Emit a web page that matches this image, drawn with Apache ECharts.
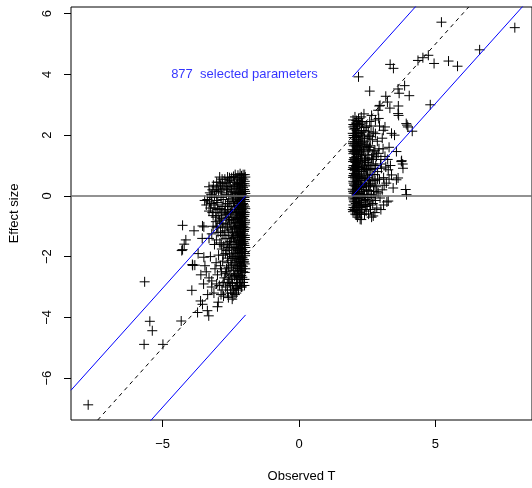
<!DOCTYPE html>
<html>
<head>
<meta charset="utf-8">
<script src="https://cdn.jsdelivr.net/npm/echarts@6/dist/echarts.min.js"></script>
<style>html,body{margin:0;padding:0;background:#fff}#c{width:532px;height:488px}</style>
</head>
<body>
<div id="c"></div>
<script>
// ---- data ----
const xTicks = [-5, 0, 5];
const yTicks = [-6, -4, -2, 0, 2, 4, 6];
const xLim = [-8.36, 8.54];
const yLim = [-7.38, 6.22];
const cutoff = 1.96;
const nSelected = 877;
const labelPos = [-2, 4];

// selected parameters with negative observed T: [observed T, effect size]
const negSide = [
[-1.97,0.62],[-1.99,0.48],[-1.98,0.33],[-2.01,0.21],[-1.97,0.08],[-2.0,-0.05],[-1.98,-0.18],[-2.02,-0.3],[-1.97,-0.42],[-1.99,-0.55],[-2.01,-0.68],[-1.98,-0.8],[-2.0,-0.93],[-1.97,-1.05],[-2.02,-1.17],[-1.99,-1.3],[-1.98,-1.44],[-2.01,-1.56],[-1.97,-1.7],[-2.0,-1.83],[-1.98,-1.97],[-2.02,-2.1],[-1.99,-2.24],[-1.97,-2.4],
[-2.05,0.7],[-2.04,0.55],[-2.07,0.41],[-2.05,0.27],[-2.06,0.14],[-2.04,0.0],[-2.08,-0.12],[-2.05,-0.25],[-2.06,-0.37],[-2.04,-0.5],[-2.07,-0.62],[-2.05,-0.75],[-2.08,-0.88],[-2.04,-1.0],[-2.06,-1.12],[-2.05,-1.25],[-2.07,-1.38],[-2.04,-1.5],[-2.06,-1.63],[-2.08,-1.76],[-2.05,-1.9],[-2.07,-2.04],[-2.04,-2.18],[-2.06,-2.32],[-2.05,-2.5],[-2.08,-2.68],
[-2.11,0.66],[-2.13,0.5],[-2.1,0.36],[-2.14,0.22],[-2.12,0.08],[-2.1,-0.06],[-2.15,-0.19],[-2.12,-0.32],[-2.1,-0.45],[-2.13,-0.58],[-2.11,-0.71],[-2.14,-0.84],[-2.1,-0.96],[-2.12,-1.09],[-2.15,-1.22],[-2.11,-1.35],[-2.13,-1.48],[-2.1,-1.61],[-2.14,-1.74],[-2.12,-1.88],[-2.1,-2.02],[-2.15,-2.16],[-2.11,-2.3],[-2.13,-2.46],[-2.12,-2.62],[-2.14,-2.85],
[-2.19,0.6],[-2.17,0.45],[-2.21,0.3],[-2.18,0.16],[-2.22,0.02],[-2.19,-0.11],[-2.17,-0.25],[-2.21,-0.38],[-2.2,-0.52],[-2.18,-0.65],[-2.23,-0.78],[-2.19,-0.92],[-2.17,-1.05],[-2.21,-1.19],[-2.2,-1.32],[-2.18,-1.46],[-2.22,-1.6],[-2.19,-1.73],[-2.17,-1.87],[-2.21,-2.0],[-2.2,-2.15],[-2.18,-2.3],[-2.23,-2.48],[-2.2,-2.66],[-2.18,-2.9],[-2.22,-3.1],
[-2.28,0.55],[-2.26,0.4],[-2.3,0.25],[-2.27,0.1],[-2.32,-0.04],[-2.28,-0.18],[-2.26,-0.32],[-2.31,-0.46],[-2.29,-0.6],[-2.27,-0.74],[-2.32,-0.88],[-2.28,-1.02],[-2.3,-1.16],[-2.26,-1.3],[-2.31,-1.45],[-2.29,-1.6],[-2.27,-1.75],[-2.32,-1.9],[-2.28,-2.05],[-2.3,-2.2],[-2.26,-2.38],[-2.31,-2.56],[-2.29,-2.75],[-2.27,-2.95],[-2.3,-3.2],
[-2.4,0.64],[-2.37,0.45],[-2.42,0.3],[-2.38,0.12],[-2.44,-0.02],[-2.4,-0.2],[-2.37,-0.36],[-2.43,-0.52],[-2.39,-0.7],[-2.41,-0.86],[-2.37,-1.02],[-2.44,-1.2],[-2.4,-1.36],[-2.38,-1.52],[-2.42,-1.7],[-2.39,-1.88],[-2.43,-2.06],[-2.38,-2.25],[-2.41,-2.45],[-2.37,-2.65],[-2.44,-2.88],[-2.4,-3.1],[-2.42,-3.3],
[-2.52,0.5],[-2.56,0.32],[-2.5,0.15],[-2.58,0.0],[-2.53,-0.18],[-2.57,-0.35],[-2.51,-0.55],[-2.59,-0.72],[-2.54,-0.9],[-2.5,-1.1],[-2.57,-1.3],[-2.52,-1.5],[-2.6,-1.7],[-2.55,-1.92],[-2.5,-2.12],[-2.58,-2.35],[-2.53,-2.6],[-2.56,-2.85],[-2.51,-3.1],[-2.59,-3.35],
[-2.68,0.42],[-2.75,0.25],[-2.66,0.05],[-2.78,-0.12],[-2.7,-0.3],[-2.74,-0.5],[-2.67,-0.7],[-2.79,-0.9],[-2.72,-1.15],[-2.68,-1.4],[-2.76,-1.65],[-2.7,-1.9],[-2.8,-2.15],[-2.66,-2.4],[-2.74,-2.7],[-2.69,-3.0],[-2.77,-3.3],
[-2.91,0.62],[-2.88,0.35],[-2.95,0.15],[-2.86,-0.05],[-2.98,-0.22],[-2.9,-0.42],[-2.94,-0.65],[-2.87,-0.9],[-2.97,-1.2],[-2.9,-1.55],[-2.95,-1.95],[-2.88,-2.3],[-2.99,-2.6],[-2.92,-2.95],[-2.86,-3.25],[-2.96,-3.5],
[-3.18,0.2],[-3.27,0.1],[-3.1,0.0],[-3.36,-0.12],[-3.22,-0.25],[-3.08,-0.4],[-3.3,-0.5],[-3.15,-0.65],[-3.05,-0.85],[-3.2,-1.25],[-3.1,-1.6],[-3.25,-2.0],[-3.08,-2.4],[-3.2,-2.8],[-3.12,-3.2],[-3.31,-3.95],[-3.36,-3.78],[-3.72,-3.84],[-2.99,-3.65],
[-3.46,-0.15],[-3.49,-1.02],[-3.54,-0.99],[-3.85,-1.15],[-4.27,-0.97],[-4.15,-1.45],[-4.21,-1.59],[-4.3,-1.8],[-4.27,-1.77],[-3.91,-2.26],[-3.82,-2.28],[-3.49,-2.02],[-3.9,-2.29],[-5.66,-2.83],[-5.47,-4.13],[-5.38,-4.44],[-5.68,-4.89],[-4.99,-4.89],[-7.73,-6.88],[-4.32,-4.12],[-3.93,-3.11],[-3.61,-3.46],[-3.54,-3.57],[-3.6,-2.6],[-3.7,-1.9],[-3.55,-1.4],
[-3.4,-2.5],[-3.3,-2.7],[-3.5,-2.9],[-3.2,-3.0],[-3.45,-2.3],[-3.35,-3.25],
[-1.99,0.7],[-2.0,0.4],[-1.98,0.15],[-2.01,-0.12],[-1.99,-0.36],[-2.0,-0.62],[-1.98,-0.87],[-2.01,-1.11],[-1.99,-1.37],[-2.0,-1.63],[-1.98,-1.9],[-2.01,-2.17],[-1.99,-2.52],[-2.0,-2.75],
[-2.09,0.59],[-2.08,0.33],[-2.1,0.05],[-2.09,-0.28],[-2.08,-0.55],[-2.1,-0.8],[-2.09,-1.04],[-2.08,-1.3],[-2.1,-1.56],[-2.09,-1.82],[-2.08,-2.1],[-2.1,-2.4],[-2.09,-2.75],[-2.1,-3.0],
[-2.16,0.73],[-2.16,0.42],[-2.15,0.12],[-2.17,-0.15],[-2.16,-0.42],[-2.15,-0.7],[-2.17,-0.98],[-2.16,-1.28],[-2.15,-1.55],[-2.17,-1.82],[-2.16,-2.08],[-2.15,-2.4],[-2.17,-2.7],
[-2.24,0.68],[-2.25,0.38],[-2.24,0.08],[-2.25,-0.2],[-2.24,-0.46],[-2.25,-0.72],[-2.24,-0.98],[-2.25,-1.25],[-2.24,-1.52],[-2.25,-1.8],[-2.24,-2.08],[-2.25,-2.38],[-2.24,-2.6],[-2.25,-2.85],
[-2.34,0.7],[-2.35,0.35],[-2.34,0.03],[-2.35,-0.26],[-2.34,-0.55],[-2.35,-0.8],[-2.34,-1.08],[-2.35,-1.38],[-2.34,-1.68],[-2.35,-1.98],[-2.34,-2.3],[-2.35,-2.62],[-2.34,-3.0],
[-2.47,0.6],[-2.48,0.22],[-2.46,-0.1],[-2.48,-0.45],[-2.47,-0.78],[-2.46,-1.05],[-2.48,-1.4],[-2.47,-1.75],[-2.46,-2.0],[-2.48,-2.3],[-2.47,-2.7],[-2.46,-3.2],
[-2.62,0.62],[-2.63,0.2],[-2.62,-0.25],[-2.64,-0.6],[-2.62,-1.0],[-2.63,-1.55],[-2.62,-2.05],[-2.64,-2.5],[-2.63,-2.9],
[-2.82,0.55],[-2.83,0.1],[-2.82,-0.35],[-2.84,-0.75],[-2.82,-1.3],[-2.83,-1.75],[-2.84,-2.5],[-2.82,-3.1],
[-3.02,0.45],[-3.03,0.2],[-3.02,-0.15],[-3.04,-0.55],[-3.02,-1.05],[-3.03,-1.45],[-3.04,-2.2],[-3.02,-2.9],
[-3.2,-0.05],[-3.25,-0.4],[-3.3,0.3],[-3.4,-0.3],[-3.15,-1.0],[-3.3,-1.4],
[-2.55,0.6],[-2.6,0.45],[-2.65,0.3],[-2.72,0.55],[-2.8,0.4],[-2.86,0.2],[-2.93,0.45],[-3.0,0.3],[-3.08,0.15],[-3.14,0.35],[-3.22,0.05],[-3.28,-0.2],[-3.12,-0.3],[-2.98,-0.45],[-2.85,-0.55],[-2.7,-0.6],[-2.62,-0.45],[-2.56,-0.8],[-2.68,-0.95],[-2.8,-1.05],[-2.92,-0.8],[-3.05,-0.7],[-3.18,-0.55],[-3.0,-1.0],[-2.88,-1.2],[-2.75,-1.3],[-2.6,-1.2],[-2.55,-1.6],[-2.65,-1.8],[-2.78,-1.95],[-2.85,-1.6],[-2.6,-2.2],[-2.7,-2.55],[-2.58,-2.75],[-2.52,-2.95],[-2.78,-2.85],[-2.62,-3.2],[-2.45,-3.4],[-2.35,-3.25],[-2.28,-3.05],[-2.12,-3.0],[-2.0,-2.95],[-2.05,-2.85]
];

// selected parameters with positive observed T: [observed T, effect size]
const posSide = [
[1.97,-0.45],[1.99,-0.3],[2.01,-0.17],[1.98,-0.04],[2.0,0.09],[1.97,0.22],[2.02,0.35],[1.99,0.48],[1.98,0.61],[2.01,0.74],[1.97,0.87],[2.0,1.0],[1.98,1.13],[2.02,1.26],[1.99,1.39],[1.97,1.52],[2.01,1.65],[1.98,1.78],[2.0,1.92],[1.97,2.06],[2.02,2.2],[1.99,2.35],
[2.06,-0.6],[2.05,-0.4],[2.08,-0.25],[2.06,-0.1],[2.09,0.03],[2.05,0.16],[2.07,0.3],[2.1,0.43],[2.06,0.56],[2.08,0.7],[2.05,0.83],[2.09,0.97],[2.07,1.1],[2.05,1.24],[2.1,1.37],[2.06,1.5],[2.08,1.64],[2.05,1.78],[2.09,1.92],[2.07,2.06],[2.06,2.22],[2.09,2.4],[2.05,2.6],
[2.14,-0.7],[2.13,-0.5],[2.16,-0.33],[2.12,-0.18],[2.17,-0.03],[2.14,0.1],[2.12,0.24],[2.18,0.38],[2.15,0.52],[2.13,0.66],[2.17,0.8],[2.14,0.94],[2.12,1.08],[2.16,1.22],[2.18,1.36],[2.13,1.5],[2.15,1.65],[2.17,1.8],[2.12,1.95],[2.16,2.1],[2.14,2.3],[2.12,2.38],[2.18,2.55],
[2.24,-0.77],[2.22,-0.55],[2.26,-0.38],[2.21,-0.22],[2.27,-0.07],[2.23,0.08],[2.2,0.22],[2.26,0.36],[2.24,0.5],[2.21,0.65],[2.28,0.8],[2.23,0.94],[2.2,1.08],[2.25,1.22],[2.27,1.38],[2.22,1.53],[2.26,1.68],[2.2,1.84],[2.24,2.0],[2.28,2.15],[2.22,2.35],[2.28,2.6],
[2.3,-0.45],[2.34,-0.3],[2.38,-0.15],[2.32,0.0],[2.36,0.14],[2.31,0.28],[2.39,0.42],[2.34,0.57],[2.3,0.72],[2.37,0.87],[2.33,1.02],[2.4,1.17],[2.31,1.32],[2.36,1.48],[2.34,1.64],[2.39,1.8],[2.32,1.97],[2.37,2.15],[2.33,2.4],[2.38,2.7],
[2.46,-0.5],[2.5,-0.3],[2.44,-0.12],[2.53,0.05],[2.48,0.2],[2.55,0.36],[2.45,0.52],[2.51,0.68],[2.47,0.85],[2.54,1.0],[2.44,1.18],[2.5,1.35],[2.55,1.52],[2.46,1.7],[2.52,1.9],[2.54,2.11],[2.48,2.3],[2.59,2.45],[2.66,2.65],
[2.66,-0.7],[2.62,-0.45],[2.7,-0.25],[2.64,-0.05],[2.73,0.15],[2.6,0.32],[2.68,0.5],[2.75,0.7],[2.63,0.88],[2.71,1.05],[2.66,1.25],[2.74,1.45],[2.61,1.65],[2.69,1.85],[2.72,2.1],[2.64,2.3],[2.72,-0.66],
[2.85,-0.4],[2.97,-0.07],[2.9,0.1],[2.82,0.3],[2.95,0.55],[2.88,0.8],[2.99,1.05],[2.84,1.3],[2.93,1.55],[2.87,1.8],[2.94,2.96],[2.9,2.82],[2.97,2.98],[2.8,2.5],[2.95,2.3],[3.0,1.2],
[3.02,0.91],[3.2,0.42],[3.27,-0.17],[3.45,0.26],[3.1,0.6],[3.27,0.86],[3.39,0.69],[3.15,1.3],[3.3,1.6],[3.09,2.16],[3.15,2.27],[3.39,2.06],[3.5,2.0],[3.24,3.09],[3.18,3.28],[3.05,1.9],[3.35,1.0],[3.1,-0.3],[3.22,-0.2],
[3.57,1.46],[3.63,0.59],[3.57,0.53],[3.75,1.13],[3.81,0.91],[3.76,1.16],[3.8,1.05],[3.91,0.21],[3.94,0.04],[3.93,2.38],[3.99,2.27],[3.96,2.33],[4.15,2.13],[3.63,2.71],[3.33,2.89],[3.64,2.96],[3.65,2.65],[4.81,3.0],[4.04,3.3],[3.63,3.52],[3.67,3.38],[3.87,3.63],[2.59,3.45],[2.18,3.92],[3.34,4.33],[3.46,4.2],[4.74,4.63],[4.54,4.55],[4.36,4.46],[4.95,4.36],[5.48,4.44],[5.81,4.27],[6.62,4.81],[5.22,5.72],[7.91,5.54],[2.28,-0.78],
[1.98,-0.52],[2.0,-0.38],[1.99,-0.1],[1.98,0.15],[2.0,0.42],[1.99,0.67],[1.98,0.94],[2.0,1.2],[1.99,1.46],[1.98,1.72],[2.0,1.99],[1.99,2.27],[1.98,2.5],
[2.04,-0.48],[2.03,-0.2],[2.04,0.09],[2.03,0.36],[2.04,0.63],[2.03,0.9],[2.04,1.17],[2.03,1.44],[2.04,1.71],[2.03,1.99],[2.04,2.3],
[2.11,-0.62],[2.1,-0.36],[2.11,-0.08],[2.1,0.2],[2.11,0.48],[2.1,0.75],[2.11,1.02],[2.1,1.3],[2.11,1.58],[2.1,1.86],[2.11,2.15],[2.1,2.48],
[2.19,-0.6],[2.19,-0.3],[2.19,0.0],[2.19,0.3],[2.19,0.6],[2.19,0.88],[2.19,1.15],[2.19,1.44],[2.19,1.73],[2.19,2.05],[2.19,2.45],
[2.28,-0.6],[2.29,-0.3],[2.28,0.0],[2.29,0.3],[2.28,0.58],[2.29,0.86],[2.28,1.14],[2.29,1.45],[2.28,1.75],[2.29,2.08],[2.28,2.45],
[2.4,-0.6],[2.42,-0.28],[2.4,0.05],[2.42,0.35],[2.41,0.65],[2.4,0.95],[2.42,1.25],[2.41,1.58],[2.4,1.9],[2.42,2.25],
[2.55,-0.6],[2.57,-0.2],[2.56,0.18],[2.58,0.55],[2.57,0.88],[2.56,1.22],[2.58,1.6],[2.57,2.0],
[2.78,-0.55],[2.8,-0.15],[2.79,0.5],[2.81,1.0],[2.78,1.5],[2.8,2.05],
[3.05,0.2],[3.12,0.35],[3.0,-0.45],[3.18,0.95],[3.08,1.55],[3.3,0.55],[3.25,1.2],[2.92,2.55],
[2.45,-0.35],[2.5,-0.05],[2.47,0.3],[2.52,0.6],[2.45,0.9],[2.5,1.1],[2.6,-0.3],[2.65,0.05],[2.62,0.4],[2.68,0.7],[2.64,1.0],[2.7,1.35],[2.75,0.0],[2.75,0.35],[2.78,0.9],[2.72,1.2],[2.85,0.15],[2.88,0.55],[2.9,1.4],[2.6,1.95],[2.5,1.62]
];

// ---- reference lines (data coordinates, clipped to the plot box) ----
const identityLine = [[yLim[0], yLim[0]], [yLim[1], yLim[1]]];
const bandLines = [
  [[xLim[0], xLim[0] + cutoff], [-cutoff, 0]],
  [[xLim[0], xLim[0] - cutoff], [-cutoff, -2 * cutoff]],
  [[cutoff, 2 * cutoff], [xLim[1], xLim[1] + cutoff]],
  [[cutoff, 0], [xLim[1], xLim[1] - cutoff]]
];
const zeroLine = [[xLim[0], 0], [xLim[1], 0]];

const fmt = v => String(v).replace('-', '\u2212');
const FONT = 'Liberation Sans, Arimo, Helvetica, Arial, sans-serif';
const FS = 13;

const chart = echarts.init(document.getElementById('c'), null, {renderer: 'canvas'});
const plus = 'path://M0,5L10,5M5,0L5,10';

const series = [
  {
    type: 'scatter',
    data: negSide.concat(posSide),
    symbol: plus,
    symbolSize: 10,
    itemStyle: {color: 'rgba(0,0,0,0)', borderColor: '#000', borderWidth: 1, opacity: 1},
    z: 2,
    silent: true
  },
  {
    type: 'line', data: zeroLine, symbol: 'none', clip: true, z: 3,
    lineStyle: {color: '#6e6e6e', width: 1.5}, silent: true
  },
  {
    type: 'line', data: identityLine, symbol: 'none', clip: true, z: 3,
    lineStyle: {color: '#000', width: 1, type: [4, 4]}, silent: true
  }
].concat(bandLines.map(d => ({
  type: 'line', data: d, symbol: 'none', clip: true, z: 4,
  lineStyle: {color: '#0000ff', width: 1}, silent: true
}))).concat([{
  type: 'scatter',
  data: [labelPos],
  symbolSize: 0,
  z: 5,
  label: {
    show: true, position: 'inside',
    formatter: nSelected + '  selected parameters',
    color: '#0000ff', fontSize: FS, fontFamily: FONT
  },
  silent: true
}]);

chart.setOption({
  animation: false,
  backgroundColor: '#fff',
  grid: {left: 69, top: 7, width: 467, height: 417, show: true, borderColor: '#000', borderWidth: 1, backgroundColor: 'transparent'},
  xAxis: {
    type: 'value', min: xLim[0], max: xLim[1],
    name: 'Observed T', nameLocation: 'middle', nameGap: 50,
    nameTextStyle: {color: '#000', fontSize: FS, fontFamily: FONT},
    axisLine: {show: false, onZero: false},
    splitLine: {show: false},
    axisTick: {show: true, customValues: xTicks, length: 7, inside: false, lineStyle: {color: '#000', width: 1}},
    axisLabel: {customValues: xTicks, formatter: fmt, color: '#000', fontSize: FS, fontFamily: FONT, margin: 18}
  },
  yAxis: {
    type: 'value', min: yLim[0], max: yLim[1],
    name: 'Effect size', nameLocation: 'middle', nameGap: 50,
    nameTextStyle: {color: '#000', fontSize: FS, fontFamily: FONT},
    axisLine: {show: false, onZero: false},
    splitLine: {show: false},
    axisTick: {show: true, customValues: yTicks, length: 7, inside: false, lineStyle: {color: '#000', width: 1}},
    axisLabel: {customValues: yTicks, formatter: fmt, rotate: 90, color: '#000', fontSize: FS, fontFamily: FONT, margin: 17}
  },
  series: series
});
</script>
</body>
</html>
